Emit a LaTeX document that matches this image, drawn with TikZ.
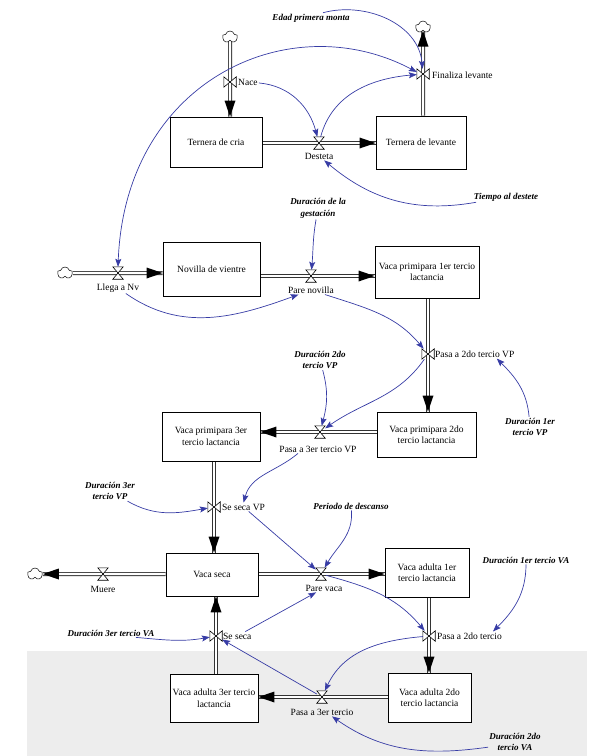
\documentclass[tikz,border=0pt]{standalone}
\usepackage{fontspec}
\setmainfont{Liberation Serif}
\usetikzlibrary{arrows.meta,shapes.symbols,decorations.markings,backgrounds}
\definecolor{linkblue}{RGB}{55,60,165}
\definecolor{panelgray}{RGB}{237,237,237}
\tikzset{
    stock/.style={draw, line width=0.9pt, fill=white, align=center, inner sep=2pt, font=\fontsize{9.5}{11.5}\selectfont},
    flowlbl/.style={inner sep=1pt, font=\fontsize{9.5}{11.5}\selectfont},
    aux/.style={inner sep=1pt, align=center, font=\fontsize{9}{11.5}\selectfont\bfseries\itshape},
    valve/.style={inner sep=0pt, draw=none},
    sink/.style={cloud, cloud puffs=5, cloud puff arc=150, aspect=1.3, draw, line width=0.5pt, fill=white, minimum width=15pt, minimum height=12pt, inner sep=0pt},
    pipe/.style={draw=black!80, line width=0.8pt, double=white, double distance=2.4pt, postaction={decorate},
        decoration={markings, mark=at position 1 with {\fill[black] (0pt,0pt) -- (-16pt,5.5pt) -- (-16pt,-5.5pt) -- cycle;}}},
    link/.style={draw=linkblue, line width=0.7pt, ->},
    linkboth/.style={link, <->},
}
\newcommand{\valveH}[2]{%
    \node[valve, minimum width=10pt, minimum height=12pt] (#1) at (#2) {};
    \draw[line width=0.6pt, fill=white] (#1.north west) -- (#1.north east) -- (#1.south west) -- (#1.south east) -- cycle;}
\newcommand{\valveV}[2]{%
    \node[valve, minimum width=12pt, minimum height=10pt] (#1) at (#2) {};
    \draw[line width=0.6pt, fill=white] (#1.north west) -- (#1.south west) -- (#1.north east) -- (#1.south east) -- cycle;}

\begin{document}
\begin{tikzpicture}[x=1pt, y=1pt, >={Stealth[length=8pt,width=6pt,inset=1.5pt]}]
    \useasboundingbox (0,0) rectangle (590,-756);

    \node[stock, minimum width=92pt, minimum height=50pt] (cria) at (216,-142) {Ternera de cria};
    \node[stock, minimum width=90pt, minimum height=53pt] (levante) at (421,-142.5) {Ternera de levante};
    \node[stock, minimum width=97pt, minimum height=54pt] (novilla) at (211.5,-269) {Novilla de vientre};
    \node[stock, minimum width=104pt, minimum height=52pt] (vp1) at (427,-272) {Vaca primipara 1er tercio\\lactancia};
    \node[stock, minimum width=99pt, minimum height=45pt] (vp2) at (426.5,-434.5) {Vaca primipara 2do\\tercio lactancia};
    \node[stock, minimum width=98pt, minimum height=49pt] (vp3) at (211,-436.5) {Vaca primipara 3er\\tercio lactancia};
    \node[stock, minimum width=92pt, minimum height=43pt] (seca) at (212,-574.5) {Vaca seca};
    \node[stock, minimum width=84pt, minimum height=49pt] (va1) at (427,-572.5) {Vaca adulta 1er\\tercio lactancia};
    \node[stock, minimum width=83pt, minimum height=49pt] (va2) at (429.5,-697.5) {Vaca adulta 2do\\tercio lactancia};
    \node[stock, minimum width=88pt, minimum height=48pt] (va3) at (214,-698) {Vaca adulta 3er tercio\\lactancia};

    \node[sink] (srcNace) at (230,-37) {};
    \node[sink] (sinkFin) at (423,-27) {};
    \node[sink] (srcLlega) at (65,-273) {};
    \node[sink] (sinkMuere) at (35,-574) {};

    \valveV{nace}{230,-82}
    \valveH{dest}{319,-143}
    \valveV{finl}{423,-74}
    \valveH{llega}{118,-273}
    \valveH{pn}{311,-276}
    \valveV{p2vp}{428,-354}
    \valveH{p3vp}{320,-432}
    \valveV{ssvp}{214,-507}
    \valveH{muere}{103,-574}
    \valveH{pv}{321,-574}
    \valveV{p2va}{429,-636}
    \valveH{p3va}{322,-697}
    \valveV{ssva}{216,-636}

    \begin{scope}[on background layer]
        \fill[panelgray] (27,-651) rectangle (587,-756);
        \draw[pipe] (srcNace) -- (nace |- cria.north);
        \draw[pipe] (cria.east |- dest) -- (levante.west |- dest);
        \draw[pipe] (levante.north -| finl) -- (sinkFin);
        \draw[pipe] (srcLlega) -- (novilla.west |- llega);
        \draw[pipe] (novilla.east |- pn) -- (vp1.west |- pn);
        \draw[pipe] (vp1.south -| p2vp) -- (vp2.north -| p2vp);
        \draw[pipe] (vp2.west |- p3vp) -- (vp3.east |- p3vp);
        \draw[pipe] (vp3.south -| ssvp) -- (seca.north -| ssvp);
        \draw[pipe] (seca.west |- muere) -- (sinkMuere);
        \draw[pipe] (seca.east |- pv) -- (va1.west |- pv);
        \draw[pipe] (va1.south -| p2va) -- (va2.north -| p2va);
        \draw[pipe] (va2.west |- p3va) -- (va3.east |- p3va);
        \draw[pipe] (va3.north -| ssva) -- (seca.south -| ssva);
    \end{scope}

    \node[flowlbl, anchor=west] (nacelbl) at (237,-82) {Nace};
    \node[flowlbl] (destlbl) at (319,-156) {Desteta};
    \node[flowlbl, anchor=west] (finllbl) at (431,-75) {Finaliza levante};
    \node[flowlbl] (llegalbl) at (118,-288) {Llega a Nv};
    \node[flowlbl] (pnlbl) at (311,-290) {Pare novilla};
    \node[flowlbl, anchor=west] (p2vplbl) at (434,-354) {Pasa a 2do tercio VP};
    \node[flowlbl] (p3vplbl) at (318,-449) {Pasa a 3er tercio VP};
    \node[flowlbl, anchor=west] (ssvplbl) at (221,-507) {Se seca VP};
    \node[flowlbl] (muerelbl) at (103,-589) {Muere};
    \node[flowlbl] (pvlbl) at (324,-588) {Pare vaca};
    \node[flowlbl, anchor=west] (p2valbl) at (436,-636) {Pasa a 2do tercio};
    \node[flowlbl] (p3valbl) at (322,-712) {Pasa a 3er tercio};
    \node[flowlbl, anchor=west] (ssvalbl) at (222,-636) {Se seca};

    \node[aux] (edad) at (311,-18) {Edad primera monta};
    \node[aux] (destete) at (506,-197) {Tiempo al destete};
    \node[aux] (gest) at (318,-208.5) {Duración de la\\gestación};
    \node[aux] (d2vp) at (320,-360) {Duración 2do\\tercio VP};
    \node[aux] (d1vp) at (530,-427) {Duración 1er\\tercio VP};
    \node[aux] (d3vp) at (110,-491) {Duración 3er\\tercio VP};
    \node[aux] (descanso) at (351,-506) {Periodo de descanso};
    \node[aux] (d1va) at (526,-560) {Duración 1er tercio VA};
    \node[aux] (d3va) at (111,-633) {Duración 3er tercio VA};
    \node[aux] (d2va) at (515,-742) {Duración 2do\\tercio VA};

    \draw[link] ([xshift=12pt]edad.north) to[out=15,in=95] (finl);
    \draw[linkboth] (llega.north) .. controls (125,-80) and (290,-5) .. ([yshift=2pt]finl.west);
    \draw[link] (nacelbl) to[out=-5,in=105] (dest);
    \draw[link] (dest) to[out=75,in=185] (finl);
    \draw[link] (destete) to[out=190,in=-40] (destlbl);
    \draw[link] (gest) to[out=-100,in=85] (pn);
    \draw[link] (llegalbl) to[out=-35,in=200] (pnlbl);
    \draw[link] (pnlbl) to[out=-18,in=130] (p2vp);
    \draw[link] (p2vp) to[out=-125,in=35] (p3vp);
    \draw[link] (d2vp) to[out=-75,in=75] (p3vp);
    \draw[link] (d1vp) to[out=95,in=-45] ([xshift=22pt]p2vplbl.south);
    \draw[link] ([xshift=-20pt]p3vplbl.south) to[out=-140,in=75] (ssvplbl.north);
    \draw[link] (d3vp) to[out=-30,in=190] (ssvp);
    \draw[link] (ssvplbl) -- (pv);
    \draw[link] (descanso) to[out=-85,in=60] (pv);
    \draw[link] (pv) to[out=-15,in=130] (p2va);
    \draw[link] (d1va) to[out=-90,in=45] ([xshift=-10pt]p2valbl.north east);
    \draw[link] (ssvalbl) -- (pvlbl);
    \draw[link] ([xshift=25pt]d3va.south) to[out=-5,in=190] (ssva);
    \draw[link] (p2va) to[out=185,in=65] (p3va);
    \draw[link] (p3va) -- (ssva);
    \draw[link] ([yshift=5pt]d2va.south west) to[out=188,in=-35] ([xshift=10pt]p3valbl.south);
\end{tikzpicture}
\end{document}
